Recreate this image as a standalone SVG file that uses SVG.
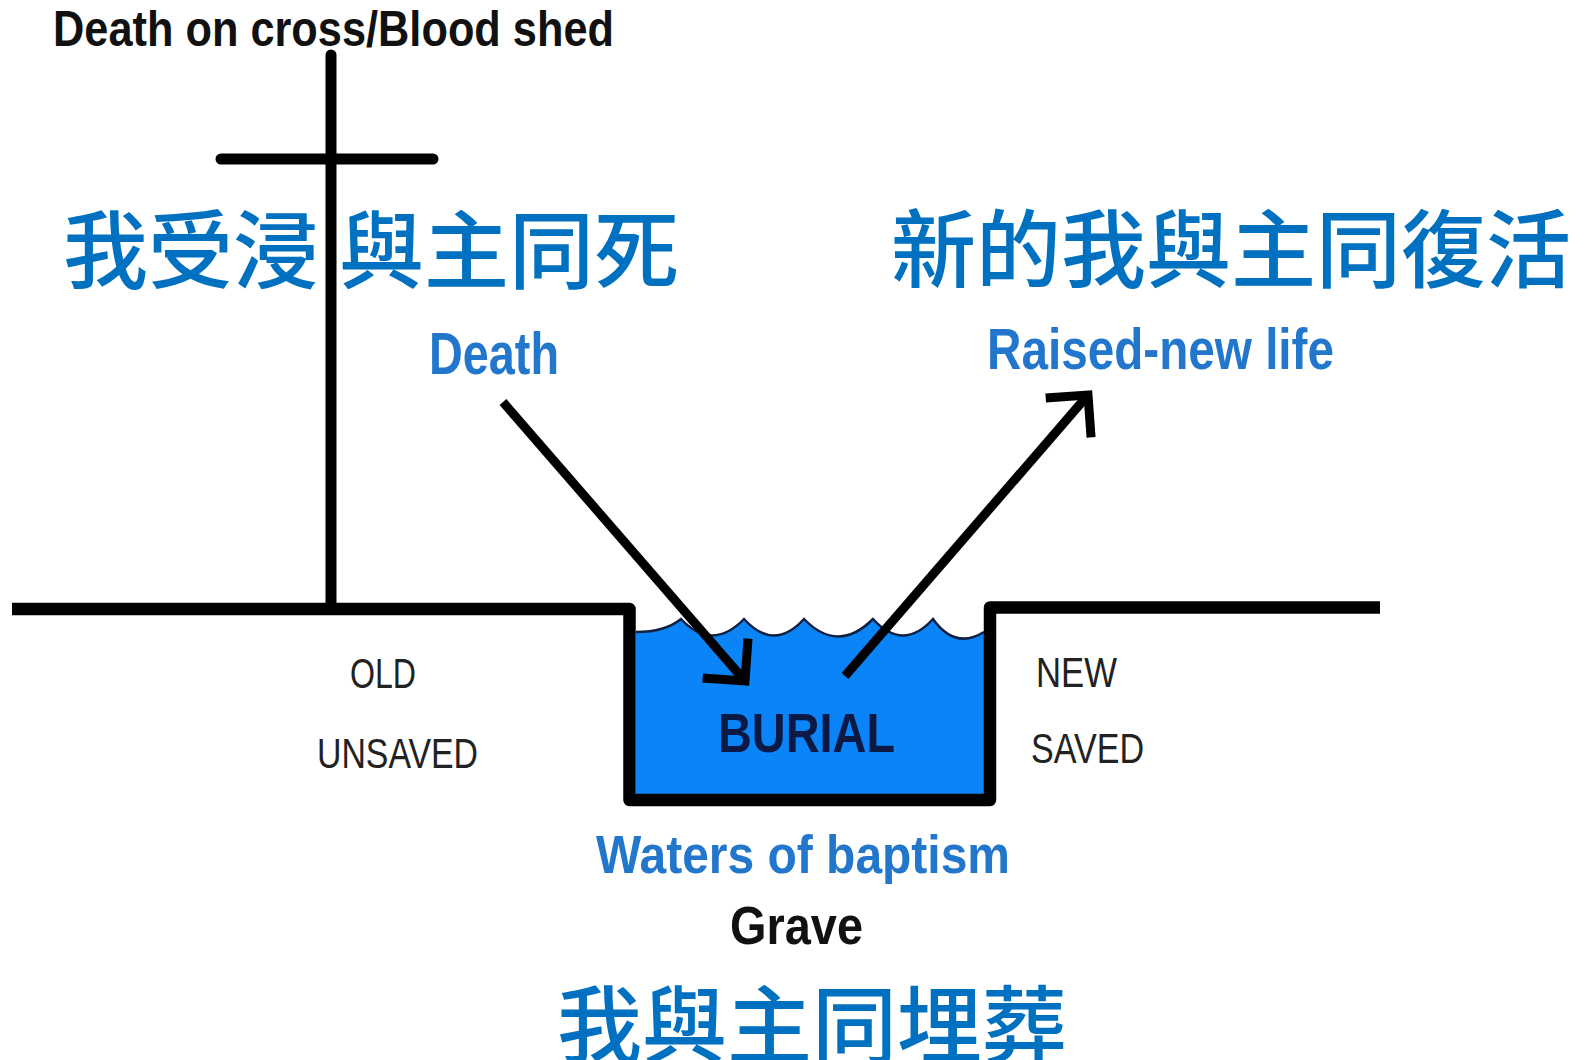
<svg xmlns="http://www.w3.org/2000/svg" width="1587" height="1060" viewBox="0 0 1587 1060">
<style>
.lat{font-family:"Liberation Sans",Arial,sans-serif}
.blue{fill:#2277CC;font-weight:bold}
.gray{fill:#222}
.cjk{font-family:"Liberation Sans","Noto Sans CJK TC",sans-serif;font-size:85px;font-weight:500;fill:#0070C0}
.ln{stroke:#000;fill:none}
</style>
<defs>
<marker id="arrowhead" markerUnits="userSpaceOnUse" markerWidth="80" markerHeight="80" viewBox="-40 -40 80 80" refX="0" refY="0" orient="auto" overflow="visible">
<path d="M-30,-30 L0,0 L-30,30" fill="none" stroke="#000" stroke-width="9" stroke-linejoin="miter"/>
</marker>
</defs>
<rect width="1587" height="1060" fill="#fff"/>
<g id="title">
<text class="lat" x="53" y="46" font-size="50" font-weight="bold" fill="#111" textLength="561" lengthAdjust="spacingAndGlyphs">Death on cross/Blood shed</text>
</g>
<g id="cross">
<line class="ln" x1="331" y1="55" x2="331" y2="608" stroke-width="11" stroke-linecap="round"/>
<line class="ln" x1="221" y1="159" x2="433" y2="159" stroke-width="11" stroke-linecap="round"/>
</g>
<g id="grave">
<path d="M636,632 Q665,632 681,619 Q712,652 744,619 Q774,652 804,619 Q838,654 873,619 Q903,652 933,619 Q955,650 984,632 V794 H636 Z" fill="#0B84F8"/>
<path d="M636,632 Q665,632 681,619 Q712,652 744,619 Q774,652 804,619 Q838,654 873,619 Q903,652 933,619 Q955,650 984,632" fill="none" stroke="#102040" stroke-width="2.5"/>
<path class="ln" d="M12,609 H629.5 V800 H990 V607.5 H1380" stroke-width="12.5" stroke-linejoin="round"/>
<text class="lat" x="718" y="752" font-size="56" font-weight="bold" fill="#0B1A45" textLength="177" lengthAdjust="spacingAndGlyphs">BURIAL</text>
</g>
<g id="connectors">
<line class="ln" x1="503" y1="402" x2="745" y2="681" stroke-width="9" marker-end="url(#arrowhead)"/>
<line class="ln" x1="845" y1="676" x2="1088" y2="395" stroke-width="9" marker-end="url(#arrowhead)"/>
</g>
<g id="label-death">
<text class="lat blue" x="429" y="374" font-size="60" textLength="130" lengthAdjust="spacingAndGlyphs">Death</text>
</g>
<g id="label-raised">
<text class="lat blue" x="987" y="369" font-size="58" textLength="347" lengthAdjust="spacingAndGlyphs">Raised-new life</text>
</g>
<g id="label-old">
<text class="lat gray" x="350" y="688" font-size="42" textLength="66" lengthAdjust="spacingAndGlyphs">OLD</text>
<text class="lat gray" x="317" y="768" font-size="42" textLength="161" lengthAdjust="spacingAndGlyphs">UNSAVED</text>
</g>
<g id="label-new">
<text class="lat gray" x="1036" y="687" font-size="42" textLength="81" lengthAdjust="spacingAndGlyphs">NEW</text>
<text class="lat gray" x="1031" y="763" font-size="42" textLength="113" lengthAdjust="spacingAndGlyphs">SAVED</text>
</g>
<g id="label-waters">
<text class="lat blue" x="596" y="873" font-size="54" textLength="414" lengthAdjust="spacingAndGlyphs">Waters of baptism</text>
<text class="lat" x="730" y="944" font-size="54" font-weight="bold" fill="#111" textLength="133" lengthAdjust="spacingAndGlyphs">Grave</text>
</g>
<g id="cjk-left">
<text class="cjk" x="63" y="282">我受浸</text>
<text class="cjk" x="339" y="282">與主同死</text>
</g>
<g id="cjk-right">
<text class="cjk" x="891" y="281">新的我與主同復活</text>
</g>
<g id="cjk-bottom">
<text class="cjk" x="557" y="1057">我與主同埋葬</text>
</g>
</svg>
